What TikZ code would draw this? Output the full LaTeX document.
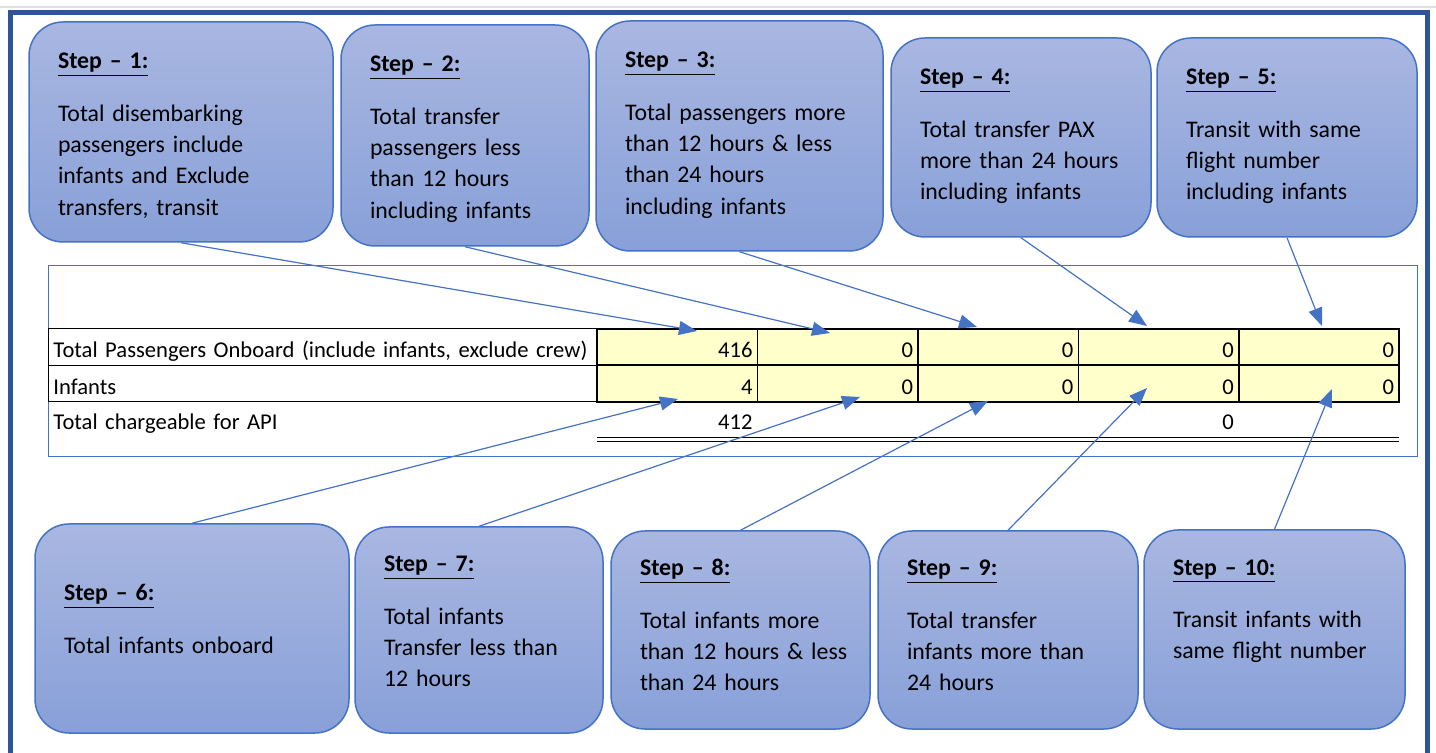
\documentclass[tikz,border=0pt]{standalone}
\usepackage{fontspec}
\setmainfont{Carlito}
\usetikzlibrary{arrows.meta, matrix}

\definecolor{framebl}{RGB}{47,85,151}
\definecolor{linebl}{RGB}{68,114,196}
\definecolor{boxtop}{RGB}{169,183,225}
\definecolor{boxbot}{RGB}{136,160,216}
\definecolor{cellyel}{RGB}{255,255,204}

\begin{document}
\begin{tikzpicture}[x = 0.5pt, y = -0.5pt, >= {Triangle[length = 9pt, width = 7pt]},
    stepbox/.style n args = {3}{draw = linebl, line width = 0.75pt, rounded corners = 17pt,
      top color = boxtop, bottom color = boxbot, inner xsep = 14.5pt, inner ysep = 0pt,
      align = left, text width = #1, text height = #2, text depth = #3,
      font = \fontsize{11.9}{15.65}\selectfont},
    cell/.style = {draw, line width = 0.8pt, fill = cellyel, outer sep = 0pt,
      inner xsep = 2.5pt, inner ysep = 0pt, text width = 75.2pt, align = right,
      minimum height = 18.25pt, text height = 10.5pt, text depth = 0pt,
      font = \fontsize{11.3}{13}\selectfont},
    labelcell/.style = {fill = white, line width = 0.5pt, text width = 269.5pt, align = left},
    flow/.style = {linebl, line width = 0.6pt}]

  \useasboundingbox (0,0) rectangle (1436,753);

  % page frame
  \draw[black!12, line width = 1pt] (0,7.5) -- (1436,7.5);
  \draw[framebl, line width = 2.5pt] (10.5,790) -- (10.5,12.5) -- (1427.5,12.5) -- (1427.5,790);

  % the sheet
  \draw[linebl, line width = 0.5pt] (48,266) rectangle (1417,457);
  \matrix (tab) [matrix of nodes, anchor = north west, inner sep = 0pt, outer sep = 0pt,
      column sep = -0.8pt, row sep = -0.8pt, nodes = {cell},
      column 1/.style = {nodes = {labelcell}},
      row 3/.style = {nodes = {draw = none, fill = none}}] at (48,328)
  {
    Total Passengers Onboard (include infants, exclude crew) & 416 & 0 & 0 & 0 & 0 \\
    Infants & 4 & 0 & 0 & 0 & 0 \\
    Total chargeable for API & 412 & & & 0 & \\
  };
  \coordinate (dbl) at (0,439.5);
  \draw[double, double distance = 1.5pt, line width = 0.5pt] (tab-2-2.west |- dbl) -- (tab-2-6.east |- dbl);

  % steps above
  \node[stepbox = {123pt}{23.5pt}{86.5pt}] (s1) at (181,132)
    {\textbf{\underline{Step – 1:}}\\[10.5pt]Total disembarking\\passengers include\\infants and Exclude\\transfers, transit};
  \node[stepbox = {95pt}{23.5pt}{87pt}] (s2) at (465,135.5)
    {\textbf{\underline{Step – 2:}}\\[10.5pt]Total transfer\\passengers less\\than 12 hours\\including infants};
  \node[stepbox = {114.5pt}{23.5pt}{91.5pt}] (s3) at (739.5,136)
    {\textbf{\underline{Step – 3:}}\\[10.5pt]Total passengers more\\than 12 hours \& less\\than 24 hours\\including infants};
  \node[stepbox = {101pt}{23.5pt}{76pt}] (s4) at (1021,137.5)
    {\textbf{\underline{Step – 4:}}\\[10.5pt]Total transfer PAX\\more than 24 hours\\including infants};
  \node[stepbox = {101pt}{23.5pt}{76pt}] (s5) at (1287,137.5)
    {\textbf{\underline{Step – 5:}}\\[10.5pt]Transit with same\\flight number\\including infants};

  % steps below
  \node[stepbox = {128pt}{38.5pt}{66pt}] (s6) at (192,628.5)
    {\textbf{\underline{Step – 6:}}\\[10.5pt]Total infants onboard};
  \node[stepbox = {95pt}{22.5pt}{80.5pt}] (s7) at (479,630)
    {\textbf{\underline{Step – 7:}}\\[10.5pt]Total infants\\Transfer less than\\12 hours};
  \node[stepbox = {100.5pt}{22.5pt}{76.5pt}] (s8) at (740.5,630)
    {\textbf{\underline{Step – 8:}}\\[10.5pt]Total infants more\\\mbox{than 12 hours \& less}\\than 24 hours};
  \node[stepbox = {101pt}{22.5pt}{76.5pt}] (s9) at (1008,630)
    {\textbf{\underline{Step – 9:}}\\[10.5pt]Total transfer\\infants more than\\24 hours};
  \node[stepbox = {101.5pt}{22.5pt}{77pt}] (s10) at (1274.5,629.5)
    {\textbf{\underline{Step – 10:}}\\[10.5pt]Transit infants with\\same flight number};

  % where the arrows land
  \coordinate (t1) at (697,331);
  \coordinate (t2) at (830,333);
  \coordinate (t3) at (977,327);
  \coordinate (t4) at (1147,326);
  \coordinate (t5) at (1322,326);
  \coordinate (t6) at (678,399);
  \coordinate (t7) at (860,397);
  \coordinate (t8) at (988,401);
  \coordinate (t9) at (1147,388);
  \coordinate (t10) at (1332,389);

  \path[->, flow] (s1.south) edge (t1)
                  (s2.south) edge (t2)
                  (s3.south) edge (t3)
                  (s4.south) edge (t4)
                  (s5.south) edge (t5);
  \path[->, flow] (s6.north) edge (t6)
                  (s7.north) edge (t7)
                  (s8.north) edge (t8)
                  (s9.north) edge (t9)
                  (s10.north) edge (t10);
\end{tikzpicture}
\end{document}
